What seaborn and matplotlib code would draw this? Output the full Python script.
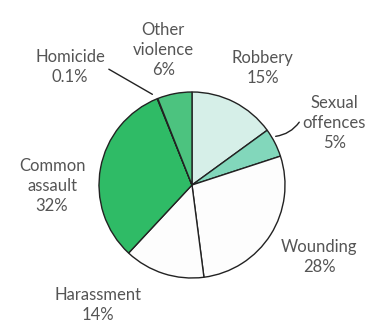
import matplotlib
matplotlib.use("Agg")
import matplotlib.pyplot as plt
import seaborn as sns

# Share of recorded violent crime by offence type
categories = ["Robbery", "Sexual\noffences", "Wounding", "Harassment",
              "Common\nassault", "Homicide", "Other\nviolence"]
shares = [15, 5, 28, 14, 32, 0.1, 6]
share_labels = ["15%", "5%", "28%", "14%", "32%", "0.1%", "6%"]

sns.set_theme(style="white")
plt.rcParams["font.family"] = ["Lato", "DejaVu Sans"]

colors = ["#d6efe8", "#82d7bb", "#fdfdfd", "#fdfdfd",
          "#2fbb66", "#2fbb66", "#4cc37f"]

fig = plt.figure(figsize=(3.68, 3.24), dpi=100)
fig.patch.set_facecolor("white")
R_PX = 93
cx, cy = 192, 185
ax = fig.add_axes([(cx - R_PX) / 368, (324 - cy - R_PX) / 324,
                   2 * R_PX / 368, 2 * R_PX / 324])
ax.pie(shares, colors=colors, startangle=90, counterclock=False, radius=1,
       wedgeprops=dict(edgecolor="#222222", linewidth=1.0))
ax.set_xlim(-1, 1)
ax.set_ylim(-1, 1)
ax.set_aspect("equal")
ax.axis("off")

# label anchor points, in pie radii from the centre
label_pos = {
    "Robbery": (0.76, 1.26),
    "Sexual\noffences": (1.53, 0.67),
    "Wounding": (1.37, -0.774),
    "Harassment": (-1.01, -1.29),
    "Common\nassault": (-1.505, -0.01),
    "Homicide": (-1.31, 1.27),
    "Other\nviolence": (-0.31, 1.45),
}
for cat, lab in zip(categories, share_labels):
    x, y = label_pos[cat]
    ax.text(x, y, f"{cat}\n{lab}", ha="center", va="center",
            fontsize=12, color="#555555", linespacing=1.32,
            clip_on=False)

# leader lines for the small slices
ax.annotate("", xy=(-0.40, 0.96), xytext=(-0.92, 1.26),
            arrowprops=dict(arrowstyle="-", color="#222222", lw=1.0),
            annotation_clip=False)
ax.annotate("", xy=(0.87, 0.52), xytext=(1.17, 0.70),
            arrowprops=dict(arrowstyle="-", color="#222222", lw=1.0,
                            connectionstyle="arc3,rad=-0.25"),
            annotation_clip=False)

fig.savefig("out.png", dpi=100, facecolor="white")
